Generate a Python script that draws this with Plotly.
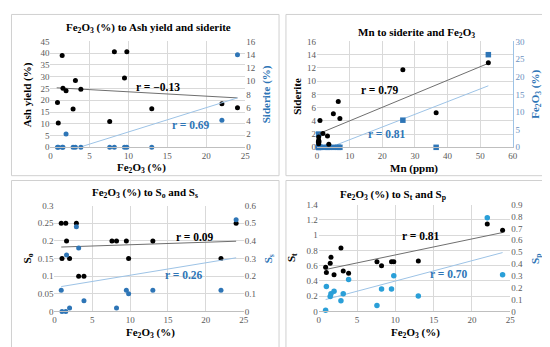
import plotly.graph_objects as go

W, H = 550, 347

# ---------------- data ----------------
fe2o3 = [0.9, 1.0, 1.5, 1.6, 2.0, 2.9, 3.2, 3.9, 7.6, 8.2, 9.5, 9.8, 13.0, 22.0, 24.0]
ash_yield = [19.0, 10.3, 39.0, 25.1, 24.0, 16.3, 28.4, 24.7, 11.0, 40.6, 29.5, 40.6, 16.4, 18.5, 16.8]
siderite = [0, 0, 0, 0, 2.0, 0, 0, 0, 0, 0, 0, 0, 0, 4.1, 14.0]
mn_ppm = [3.6, 0.5, 0.4, 0.6, 0.5, 0.5, 3.2, 1.8, 0.9, 7.0, 5.0, 36.5, 6.5, 26.3, 52.5]
s_o = [0.25, 0.15, 0.25, 0.2, 0.15, 0.25, 0.1, 0.1, 0.2, 0.2, 0.2, 0.15, 0.2, 0.15, 0.25]
s_s = [0.12, 0, 0, 0.32, 0.02, 0.48, 0.36, 0.06, None, 0.02, 0.12, 0.10, 0.12, 0.12, 0.52]
s_t = [0.58, 0.51, 0.63, 0.71, 0.48, 0.83, 0.53, 0.50, 0.65, 0.60, 0.65, 0.65, 0.66, 1.145, 1.065]
s_p = [0.01, 0.21, 0.125, 0.15, 0.17, 0.09, 0.15, 0.27, 0.05, 0.19, 0.19, 0.30, 0.13, 0.79, 0.31]

# trend line end points
tr1_ash_x, tr1_ash_y = [0.8, 24.0], [25.3, 21.0]
tr1_sid_x, tr1_sid_y = [3.7, 24.0], [0.0, 7.47]
tr2_fe_x, tr2_fe_y = [0.5, 52.5], [3.85, 23.8]
tr2_sid_x, tr2_sid_y = [4.0, 52.5], [0.0, 9.3]
tr3_so_x, tr3_so_y = [0.9, 24.0], [0.1825, 0.199]
tr3_ss_x, tr3_ss_y = [0.9, 24.0], [0.141, 0.304]
tr4_st_x, tr4_st_y = [0.9, 24.0], [0.55, 1.034]
tr4_sp_x, tr4_sp_y = [0.9, 24.0], [0.10, 0.496]

FE = "Fe<sub>2</sub>O<sub>3</sub>"
SERIF = "Liberation Serif, Times New Roman, serif"
BLACK = "#000000"
BLUE = "#2E75B6"
BLUE4 = "#2A9FD8"
TLINE_K = "#6f6f6f"
TLINE_B = "#9DC3E6"
GRID = "#d9d9d9"
TICK = "#595959"


def px(x):
    return x / W


def py(y):
    return 1 - y / H


fig = go.Figure()

def dots(x, y, xa, ya, color, symbol="circle", size=5):
    fig.add_trace(go.Scatter(x=x, y=y, xaxis=xa, yaxis=ya, mode="markers",
                             marker=dict(color=color, size=size, symbol=symbol),
                             showlegend=False, hoverinfo="skip", cliponaxis=False))

def tline(x, y, xa, ya, color):
    fig.add_trace(go.Scatter(x=x, y=y, xaxis=xa, yaxis=ya, mode="lines",
                             line=dict(color=color, width=1),
                             showlegend=False, hoverinfo="skip"))

# Panel 1
tline(tr1_ash_x, tr1_ash_y, "x", "y", TLINE_K)
tline(tr1_sid_x, tr1_sid_y, "x", "y2", TLINE_B)
dots(fe2o3, ash_yield, "x", "y", BLACK)
dots(fe2o3, siderite, "x", "y2", BLUE)
# Panel 2
tline(tr2_fe_x, tr2_fe_y, "x2", "y4", TLINE_K)
tline(tr2_sid_x, tr2_sid_y, "x2", "y3", TLINE_B)
dots(mn_ppm, siderite, "x2", "y3", BLUE, "square", 5.5)
dots(mn_ppm, fe2o3, "x2", "y4", BLACK)
# Panel 3
tline(tr3_so_x, tr3_so_y, "x3", "y5", TLINE_K)
tline(tr3_ss_x, tr3_ss_y, "x3", "y6", TLINE_B)
dots(fe2o3, s_o, "x3", "y5", BLACK)
dots(fe2o3, s_s, "x3", "y6", BLUE)
# Panel 4
tline(tr4_st_x, tr4_st_y, "x4", "y7", TLINE_K)
tline(tr4_sp_x, tr4_sp_y, "x4", "y8", TLINE_B)
dots(fe2o3, s_t, "x4", "y7", BLACK)
dots(fe2o3, s_p, "x4", "y8", BLUE4, size=5.5)

tickfont = dict(family=SERIF, size=9, color=TICK)

def xax(dom, rng, dt, anchor):
    return dict(domain=[px(dom[0]), px(dom[1])], range=rng, dtick=dt, anchor=anchor,
                showgrid=True, gridcolor=GRID, gridwidth=1, zeroline=False,
                showline=True, linecolor="#bfbfbf", linewidth=1, ticks="",
                ticklabelstandoff=0,
                tickfont=tickfont, fixedrange=True)

def yax(dom, rng, dt, anchor):
    return dict(domain=[py(dom[1]), py(dom[0])], range=rng, dtick=dt, anchor=anchor,
                showgrid=True, gridcolor=GRID, gridwidth=1, zeroline=False,
                showline=False, ticks="", tickfont=tickfont, fixedrange=True)

def y2ax(over, rng, dt, anchor, color=TICK, linecolor=None):
    d = dict(overlaying=over, side="right", range=rng, dtick=dt, anchor=anchor,
             showgrid=False, zeroline=False, ticks="",
             tickfont=dict(family=SERIF, size=9, color=color), fixedrange=True)
    if linecolor:
        d.update(showline=True, linecolor=linecolor, linewidth=1)
    return d

P1 = dict(x=(41, 238.3), y=(29.3, 138.3))
P2 = dict(x=(311, 509.3), y=(29.3, 138.3))
P3 = dict(x=(45, 236.7), y=(198.3, 307.3))
P4 = dict(x=(312.7, 506.7), y=(197.3, 307.3))

fig.update_layout(
    width=W, height=H, margin=dict(l=0, r=0, t=0, b=0), autosize=False,
    paper_bgcolor="white", plot_bgcolor="white", showlegend=False,
    xaxis=xax(P1["x"], [0, 25], 5, "y"),
    yaxis=yax(P1["y"], [0, 45], 5, "x"),
    yaxis2=y2ax("y", [0, 16], 2, "x"),
    xaxis2=xax(P2["x"], [0, 60], 10, "y3"),
    yaxis3=yax(P2["y"], [0, 16], 2, "x2"),
    yaxis4=y2ax("y3", [0, 30], 5, "x2", color="#6a8fc0", linecolor="#9DC3E6"),
    xaxis3=xax(P3["x"], [0, 25], 5, "y5"),
    yaxis5=yax(P3["y"], [0, 0.3], 0.05, "x3"),
    yaxis6=y2ax("y5", [0, 0.6], 0.1, "x3"),
    xaxis4=xax(P4["x"], [0, 25], 5, "y7"),
    yaxis7=yax(P4["y"], [0, 1.4], 0.2, "x4"),
    yaxis8=y2ax("y7", [0, 0.9], 0.1, "x4"),
)

# panel frames
shapes = []
for (x0, x1, y0, y1) in [(1.5, 272.5, 1.5, 167.5), (279.5, 548.5, 1.5, 167.5),
                         (1.5, 272.5, 172.5, 344.5), (279.5, 548.5, 172.5, 344.5)]:
    shapes.append(dict(type="rect", xref="paper", yref="paper",
                       x0=px(x0), x1=px(x1), y0=py(y1), y1=py(y0),
                       line=dict(color="#d0d0d0", width=1), layer="below"))
fig.update_layout(shapes=shapes)

ann = []

def text(t, x, y, size=11, color=BLACK, angle=0, bold=True):
    ann.append(dict(text=f"<b>{t}</b>" if bold else t, x=px(x), y=py(y), xref="paper", yref="paper",
                    showarrow=False, textangle=angle, xanchor="center", yanchor="middle",
                    font=dict(family=SERIF, size=size, color=color)))

def rlabel(t, x, y, xr, yr, color):
    ann.append(dict(text=f"<b>{t}</b>", x=x, y=y, xref=xr, yref=yr, showarrow=False,
                    xanchor="center", yanchor="middle",
                    font=dict(family=SERIF, size=11.5, color=color)))

# titles
text(f"{FE} (%) to Ash yield and siderite", 140, 15)
text(f"Mn to siderite and {FE}", 412, 21)
text(f"{FE} (%) to S<sub>o</sub> and S<sub>s</sub>", 137, 185)
text(f"{FE} (%) to S<sub>t</sub> and S<sub>p</sub>", 388, 187)
# axis titles
text(f"{FE} (%)", 133, 160)
text("Ash yield (%)", 18, 84, angle=-90)
text("Siderite (%)", 260, 84, color=BLUE, angle=-90)
text("Mn (ppm)", 409, 160.5)
text("Siderite", 290, 86, angle=-90)
text(f"{FE} (%)", 532, 84, color=BLUE, angle=-90)
text(f"{FE} (%)", 142, 329)
text("S<sub>o</sub>", 18, 253, angle=-90)
text("S<sub>s</sub>", 262, 253, color=BLUE, angle=-90)
text(f"{FE} (%)", 411, 329)
text("S<sub>t</sub>", 285, 252, angle=-90)
text("S<sub>p</sub>", 532, 253, color=BLUE, angle=-90)

# r labels
rlabel("r = −0.13", 13.8, 25.5, "x", "y", BLACK)
rlabel("r = 0.69", 18.0, 9.6, "x", "y", BLUE)
rlabel("r = 0.79", 19.2, 8.7, "x2", "y3", BLACK)
rlabel("r = 0.81", 21.3, 2.05, "x2", "y3", BLUE)
rlabel("r = 0.09", 18.6, 0.21, "x3", "y5", BLACK)
rlabel("r = 0.26", 17.1, 0.103, "x3", "y5", BLUE)
rlabel("r = 0.81", 13.4, 0.99, "x4", "y7", BLACK)
rlabel("r = 0.70", 17.05, 0.487, "x4", "y7", BLUE)

fig.update_layout(annotations=ann)
fig.write_html("out.html")
